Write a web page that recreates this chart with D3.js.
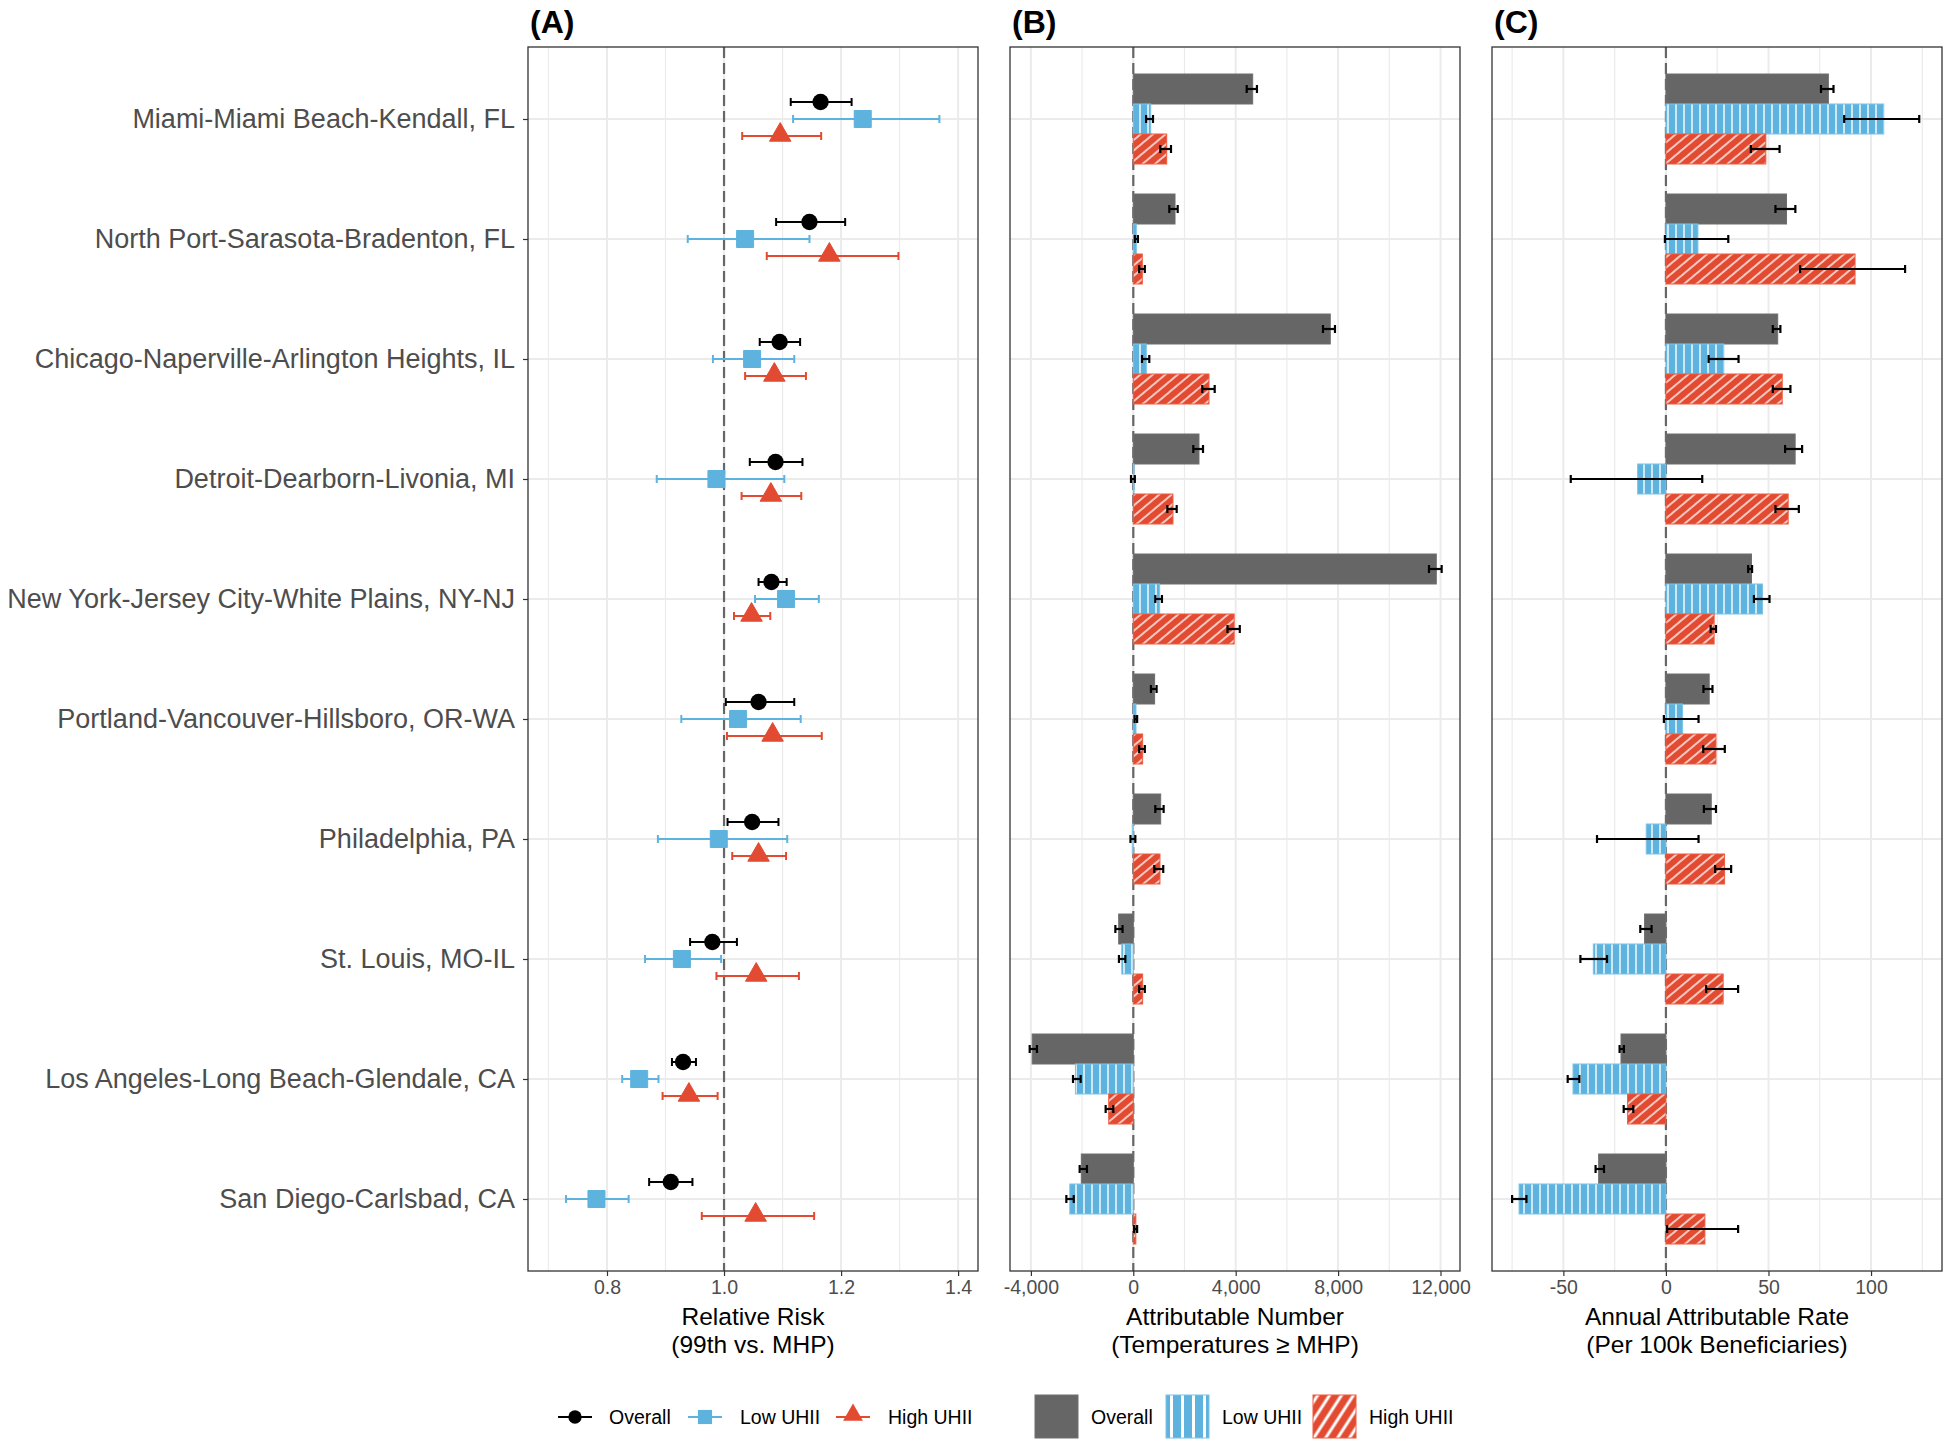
<!DOCTYPE html>
<html><head><meta charset="utf-8">
<script src="https://cdn.jsdelivr.net/npm/d3@7"></script>
<style>body{margin:0;background:#fff;} svg{display:block;font-family:"Liberation Sans",Arial,sans-serif;}</style>
</head><body>
<svg id="chart" width="1950" height="1445"></svg>
<script>
// ---------------- DATA ----------------
const categories = [
  "Miami-Miami Beach-Kendall, FL",
  "North Port-Sarasota-Bradenton, FL",
  "Chicago-Naperville-Arlington Heights, IL",
  "Detroit-Dearborn-Livonia, MI",
  "New York-Jersey City-White Plains, NY-NJ",
  "Portland-Vancouver-Hillsboro, OR-WA",
  "Philadelphia, PA",
  "St. Louis, MO-IL",
  "Los Angeles-Long Beach-Glendale, CA",
  "San Diego-Carlsbad, CA"
];
const groups = ["Overall", "Low UHII", "High UHII"];

// Panel A: relative risk [estimate, lower, upper]
const rrOverall = [[1.165,1.114,1.218],[1.146,1.089,1.207],[1.095,1.061,1.130],[1.088,1.044,1.134],[1.081,1.059,1.107],[1.059,1.003,1.120],[1.048,1.006,1.093],[0.980,0.942,1.022],[0.930,0.911,0.952],[0.909,0.872,0.946]];
const rrLow     = [[1.237,1.118,1.368],[1.036,0.938,1.146],[1.048,0.981,1.120],[0.987,0.885,1.103],[1.106,1.053,1.162],[1.024,0.927,1.131],[0.991,0.887,1.108],[0.928,0.865,0.995],[0.855,0.826,0.888],[0.782,0.730,0.837]];
const rrHigh    = [[1.096,1.031,1.166],[1.180,1.073,1.298],[1.086,1.036,1.140],[1.080,1.030,1.132],[1.047,1.017,1.079],[1.083,1.005,1.167],[1.059,1.014,1.106],[1.055,0.987,1.128],[0.940,0.895,0.989],[1.054,0.962,1.154]];

// Panel B: attributable number [estimate, lower, upper]
const anOverall = [[4664,4430,4830],[1630,1406,1734],[7695,7410,7878],[2566,2344,2723],[11836,11550,12045],[833,690,910],[1070,860,1185],[-570,-700,-420],[-3950,-4047,-3763],[-2030,-2095,-1810]];
const anLow     = [[680,500,770],[117,60,180],[508,340,625],[30,-90,60],[1030,860,1120],[105,50,150],[-40,-110,80],[-450,-560,-310],[-2260,-2355,-2055],[-2480,-2615,-2325]];
const anHigh    = [[1305,1055,1473],[352,230,450],[2957,2695,3180],[1550,1330,1695],[3940,3680,4160],[365,230,450],[1042,820,1170],[365,230,450],[-960,-1080,-780],[100,30,150]];

// Panel C: annual attributable rate per 100k [estimate, lower, upper]
const arOverall = [[79.2,75.6,81.7],[58.8,53.4,63.1],[54.5,52.1,55.8],[63.0,58.1,66.4],[41.7,40.1,42.0],[21.1,18.3,22.7],[22.1,18.5,24.4],[-10.4,-12.5,-7.0],[-21.9,-22.6,-20.5],[-32.8,-34.3,-30.2]];
const arLow     = [[106.2,86.9,123.5],[15.6,-0.5,30.4],[28.2,20.8,35.4],[-13.8,-46.4,17.7],[47.1,42.9,50.5],[8.1,-1.0,15.9],[-9.6,-33.6,15.9],[-35.4,-41.7,-28.7],[-45.3,-47.9,-42.2],[-71.6,-75.0,-68.0]];
const arHigh    = [[48.7,41.4,55.4],[92.2,65.4,116.6],[56.7,52.1,60.7],[59.6,53.4,64.8],[23.5,21.8,24.4],[24.4,18.2,28.7],[28.6,24.0,31.8],[27.9,19.6,35.2],[-18.7,-20.6,-15.9],[19.0,0.6,35.2]];

// Axis ticks
const ticksA = [0.8, 1.0, 1.2, 1.4];
const minorA = [0.7, 0.9, 1.1, 1.3];
const ticksB = [-4000, 0, 4000, 8000, 12000];
const minorB = [-2000, 2000, 6000, 10000];
const ticksC = [-50, 0, 50, 100];
const minorC = [-75, -25, 25, 75, 125];
const panelTitles = ["(A)", "(B)", "(C)"];
const axisTitles = [["Relative Risk","(99th vs. MHP)"],["Attributable Number","(Temperatures \u2265 MHP)"],["Annual Attributable Rate","(Per 100k Beneficiaries)"]];

// ---------------- STYLE ----------------
const COL = {"Overall":"#000000","Low UHII":"#5DB3DE","High UHII":"#E24B31"};
const BARFILL = {"Overall":"#666666","Low UHII":"#5DB3DE","High UHII":"#E24B31"};
const BARSTROKE = {"Overall":"#6e6e6e","Low UHII":"#7cc3e7","High UHII":"#ef5a3f"};

const svg = d3.select("#chart");
const defs = svg.append("defs");
function vStripe(id, w, lw, color) {
  const p = defs.append("pattern").attr("id", id).attr("patternUnits","userSpaceOnUse").attr("width", w).attr("height", w);
  p.append("rect").attr("width", w).attr("height", w).attr("fill", color);
  p.append("line").attr("x1", w/2).attr("x2", w/2).attr("y1", 0).attr("y2", w).attr("stroke","#fff").attr("stroke-width", lw);
}
function dStripe(id, w, lw, color, rot) {
  const p = defs.append("pattern").attr("id", id).attr("patternUnits","userSpaceOnUse").attr("width", w).attr("height", w).attr("patternTransform", `rotate(${rot})`);
  p.append("rect").attr("width", w).attr("height", w).attr("fill", color);
  p.append("line").attr("x1", w/2).attr("x2", w/2).attr("y1", 0).attr("y2", w).attr("stroke","#fff").attr("stroke-width", lw);
}
vStripe("pLow", 8, 1.4, BARFILL["Low UHII"]);
dStripe("pHigh", 8, 1.4, BARFILL["High UHII"], 50);
vStripe("pLowLeg", 11, 3, BARFILL["Low UHII"]);
dStripe("pHighLeg", 10, 3, BARFILL["High UHII"], 33);
const FILLREF = {"Overall":BARFILL["Overall"],"Low UHII":"url(#pLow)","High UHII":"url(#pHigh)"};

const yTop = 47, yBottom = 1271;
const y = d3.scalePoint().domain(categories).range([yTop, yBottom]).padding(0.6);

const fmt = d => d3.format(",")(d).replace("\u2212","-");
const panels = [
  {x0:528, x1:978, domain:[0.665,1.434], ticks:ticksA, minor:minorA, ref:1.0, fmt:d3.format(".1f")},
  {x0:1010, x1:1460, domain:[-4816,12762], ticks:ticksB, minor:minorB, ref:0, fmt:fmt},
  {x0:1492, x1:1942, domain:[-84.8,134.6], ticks:ticksC, minor:minorC, ref:0, fmt:fmt}
];

panels.forEach((p, i) => {
  p.x = d3.scaleLinear().domain(p.domain).range([p.x0, p.x1]);
  const g = svg.append("g");
  g.selectAll(".minor").data(p.minor).join("line")
    .attr("x1", d => p.x(d)).attr("x2", d => p.x(d)).attr("y1", yTop).attr("y2", yBottom)
    .attr("stroke", "#EBEBEB").attr("stroke-width", 1.2);
  g.selectAll(".major").data(p.ticks).join("line")
    .attr("x1", d => p.x(d)).attr("x2", d => p.x(d)).attr("y1", yTop).attr("y2", yBottom)
    .attr("stroke", "#EBEBEB").attr("stroke-width", 2);
  g.selectAll(".hgrid").data(categories).join("line")
    .attr("x1", p.x0).attr("x2", p.x1).attr("y1", d => y(d)).attr("y2", d => y(d))
    .attr("stroke", "#EBEBEB").attr("stroke-width", 2);
  g.append("line").attr("x1", p.x(p.ref)).attr("x2", p.x(p.ref)).attr("y1", yTop).attr("y2", yBottom)
    .attr("stroke", "#666666").attr("stroke-width", 2.2).attr("stroke-dasharray", "11,5");
  p.g = g;
  const ax = svg.append("g").attr("transform", `translate(0,${yBottom})`)
    .call(d3.axisBottom(p.x).tickValues(p.ticks).tickFormat(p.fmt).tickSize(5).tickPadding(4));
  ax.select(".domain").remove();
  ax.selectAll(".tick line").attr("stroke", "#333333").attr("stroke-width", 1.2);
  ax.selectAll(".tick text").attr("fill", "#4D4D4D").attr("font-size", 19.5).attr("font-family", "Liberation Sans, Arial, sans-serif");
  const cx = (p.x0 + p.x1) / 2;
  svg.append("text").attr("x", cx).attr("y", 1325).attr("text-anchor","middle").attr("font-size", 24.5).attr("fill","#000").text(axisTitles[i][0]);
  svg.append("text").attr("x", cx).attr("y", 1353).attr("text-anchor","middle").attr("font-size", 24.5).attr("fill","#000").text(axisTitles[i][1]);
  svg.append("text").attr("x", p.x0 + 2).attr("y", 33).attr("font-size", 32).attr("font-weight","bold").attr("fill","#000").text(panelTitles[i]);
});

const ay = svg.append("g").attr("transform", `translate(528,0)`)
  .call(d3.axisLeft(y).tickSize(5).tickPadding(8));
ay.select(".domain").remove();
ay.selectAll(".tick line").attr("stroke", "#333333").attr("stroke-width", 1.2);
ay.selectAll(".tick text").attr("fill", "#4D4D4D").attr("font-size", 27).attr("font-family", "Liberation Sans, Arial, sans-serif");

// ---------------- Panel A points ----------------
const pA = panels[0];
const rrSeries = [rrOverall, rrLow, rrHigh];
const dodgeA = [-17, 0, 17];
rrSeries.forEach((series, gi) => {
  const grp = groups[gi];
  const col = COL[grp];
  const g = pA.g.append("g");
  const rows = series.map((v, k) => ({cat: categories[k], est: v[0], lo: v[1], hi: v[2]}));
  const yy = d => y(d.cat) + dodgeA[gi];
  g.selectAll(".eb").data(rows).join("line")
    .attr("x1", d => pA.x(d.lo)).attr("x2", d => pA.x(d.hi)).attr("y1", yy).attr("y2", yy)
    .attr("stroke", col).attr("stroke-width", 2);
  g.selectAll(".c1").data(rows).join("line")
    .attr("x1", d => pA.x(d.lo)).attr("x2", d => pA.x(d.lo)).attr("y1", d => yy(d) - 4).attr("y2", d => yy(d) + 4)
    .attr("stroke", col).attr("stroke-width", 2);
  g.selectAll(".c2").data(rows).join("line")
    .attr("x1", d => pA.x(d.hi)).attr("x2", d => pA.x(d.hi)).attr("y1", d => yy(d) - 4).attr("y2", d => yy(d) + 4)
    .attr("stroke", col).attr("stroke-width", 2);
  const sym = [d3.symbolCircle, d3.symbolSquare, d3.symbolTriangle][gi];
  const size = [210, 290, 200][gi];
  g.selectAll(".pt").data(rows).join("path")
    .attr("d", d3.symbol().type(sym).size(size))
    .attr("transform", d => `translate(${pA.x(d.est)},${yy(d) + (gi === 2 ? -1 : 0)})`)
    .attr("fill", col).attr("stroke", gi === 0 ? "none" : col).attr("stroke-width", 1);
});

// ---------------- Panels B & C bars ----------------
function drawBars(p, seriesList) {
  const barH = 30;
  const offs = [-1.5, -0.5, 0.5];
  seriesList.forEach((series, gi) => {
    const grp = groups[gi];
    const rows = series.map((v, k) => ({cat: categories[k], est: v[0], lo: v[1], hi: v[2]}));
    const g = p.g.append("g");
    g.selectAll("rect").data(rows).join("rect")
      .attr("x", d => Math.min(p.x(0), p.x(d.est)))
      .attr("width", d => Math.abs(p.x(d.est) - p.x(0)))
      .attr("y", d => y(d.cat) + offs[gi] * barH)
      .attr("height", barH)
      .attr("fill", FILLREF[grp]).attr("stroke", BARSTROKE[grp]).attr("stroke-width", 1);
  });
  seriesList.forEach((series, gi) => {
    const rows = series.map((v, k) => ({cat: categories[k], est: v[0], lo: v[1], hi: v[2]}));
    const g = p.g.append("g");
    const yy = d => y(d.cat) + (offs[gi] + 0.5) * barH;
    g.selectAll(".eb").data(rows).join("line")
      .attr("x1", d => p.x(d.lo)).attr("x2", d => p.x(d.hi)).attr("y1", yy).attr("y2", yy)
      .attr("stroke", "#000").attr("stroke-width", 2.2);
    g.selectAll(".c1").data(rows).join("line")
      .attr("x1", d => p.x(d.lo)).attr("x2", d => p.x(d.lo)).attr("y1", d => yy(d) - 4).attr("y2", d => yy(d) + 4)
      .attr("stroke", "#000").attr("stroke-width", 2.2);
    g.selectAll(".c2").data(rows).join("line")
      .attr("x1", d => p.x(d.hi)).attr("x2", d => p.x(d.hi)).attr("y1", d => yy(d) - 4).attr("y2", d => yy(d) + 4)
      .attr("stroke", "#000").attr("stroke-width", 2.2);
  });
}
drawBars(panels[1], [anOverall, anLow, anHigh]);
drawBars(panels[2], [arOverall, arLow, arHigh]);

panels.forEach(p => {
  svg.append("rect").attr("x", p.x0).attr("y", yTop).attr("width", p.x1 - p.x0).attr("height", yBottom - yTop)
    .attr("fill", "none").attr("stroke", "#333333").attr("stroke-width", 1.3);
});

// ---------------- Legends ----------------
const legY = 1417;
const leg1X = [558, 688, 836];
const leg1T = [609, 740, 888];
groups.forEach((grp, gi) => {
  const col = COL[grp];
  const g = svg.append("g");
  g.append("line").attr("x1", leg1X[gi]).attr("x2", leg1X[gi] + 34).attr("y1", legY).attr("y2", legY)
    .attr("stroke", col).attr("stroke-width", 2);
  const sym = [d3.symbolCircle, d3.symbolSquare, d3.symbolTriangle][gi];
  const size = [140, 200, 170][gi];
  g.append("path").attr("d", d3.symbol().type(sym).size(size))
    .attr("transform", `translate(${leg1X[gi] + 17},${legY - (gi === 2 ? 2 : 0)})`).attr("fill", col);
  g.append("text").attr("x", leg1T[gi]).attr("y", legY + 7).attr("font-size", 19.5).attr("fill", "#000").text(grp);
});
const leg2X = [1035, 1166, 1313];
const leg2T = [1091, 1222, 1369];
const legFill = [BARFILL["Overall"], "url(#pLowLeg)", "url(#pHighLeg)"];
groups.forEach((grp, gi) => {
  svg.append("rect").attr("x", leg2X[gi]).attr("y", 1395).attr("width", 43).attr("height", 43)
    .attr("fill", legFill[gi]).attr("stroke", BARSTROKE[grp]).attr("stroke-width", 1);
  svg.append("text").attr("x", leg2T[gi]).attr("y", legY + 7).attr("font-size", 19.5).attr("fill", "#000").text(grp);
});
</script>
</body></html>
